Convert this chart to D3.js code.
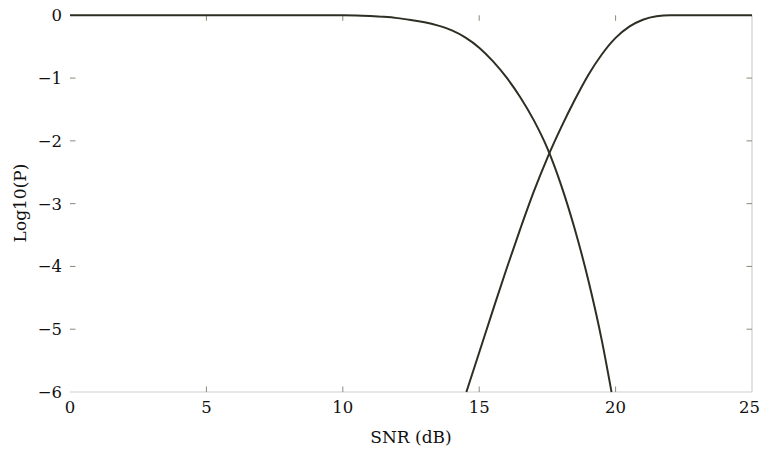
<!DOCTYPE html>
<html>
<head>
<meta charset="utf-8">
<script src="https://cdn.jsdelivr.net/npm/d3@7"></script>
<style>
  html, body { margin: 0; padding: 0; background: #fff; }
  svg { display: block; }
  text { font-family: "DejaVu Serif", "Liberation Serif", serif; fill: #111; }
</style>
</head>
<body>
<svg id="chart" width="761" height="452"></svg>
<script>
// ---- data ----
const xTicks = [0, 5, 10, 15, 20, 25];
const yTicks = [0, -1, -2, -3, -4, -5, -6];
const xTitle = "SNR (dB)";
const yTitle = "Log10(P)";

// Decreasing curve
const snrA = [0, 5, 10, 10.5, 11, 11.5, 12, 12.5, 13, 13.5, 14, 14.5, 15, 15.5, 16, 16.5, 17, 17.5, 18, 18.5, 19, 19.5, 19.85];
const logPA = [0, 0, 0, -0.003, -0.012, -0.025, -0.045, -0.075, -0.11, -0.165, -0.24, -0.355, -0.515, -0.73, -0.99, -1.3, -1.67, -2.12, -2.7, -3.4, -4.22, -5.19, -6];

// Increasing curve
const snrB = [14.53, 15, 15.5, 16, 16.5, 17, 17.5, 18, 18.5, 19, 19.5, 20, 20.5, 21, 21.5, 22, 25];
const logPB = [-6, -5.37, -4.7, -4.04, -3.41, -2.81, -2.27, -1.79, -1.35, -0.95, -0.62, -0.36, -0.18, -0.07, -0.015, 0, 0];

// ---- drawing ----
const svg = d3.select("#chart");
const W = 761;
const mLeft = 70, mRight = 752, mTop = 15.3, mBottom = 392;
const x = d3.scaleLinear().domain([0, 25]).range([mLeft, mRight]);
const y = d3.scaleLinear().domain([-6, 0]).range([mBottom, mTop]);

const frameColor = "#cfcfcf";
const tickColor = "#8a8a7a";
const curveColor = "#2e2e24";
const tickFont = 16.5;
const titleFont = 17;

// frame: bottom and right
svg.append("line").attr("x1", mLeft).attr("x2", mRight).attr("y1", mBottom).attr("y2", mBottom)
  .attr("stroke", frameColor).attr("stroke-width", 1.2);
svg.append("line").attr("x1", mRight).attr("x2", mRight).attr("y1", mTop).attr("y2", mBottom)
  .attr("stroke", frameColor).attr("stroke-width", 1.2);

// inward ticks
const tl = 5.5;
xTicks.slice(1, -1).forEach(v => {
  svg.append("line").attr("x1", x(v)).attr("x2", x(v)).attr("y1", mBottom).attr("y2", mBottom - tl)
    .attr("stroke", tickColor).attr("stroke-width", 1);
  svg.append("line").attr("x1", x(v)).attr("x2", x(v)).attr("y1", mTop).attr("y2", mTop + tl)
    .attr("stroke", tickColor).attr("stroke-width", 1);
});
yTicks.slice(1, -1).forEach(v => {
  svg.append("line").attr("x1", mLeft).attr("x2", mLeft + tl).attr("y1", y(v)).attr("y2", y(v))
    .attr("stroke", tickColor).attr("stroke-width", 1);
  svg.append("line").attr("x1", mRight).attr("x2", mRight - tl).attr("y1", y(v)).attr("y2", y(v))
    .attr("stroke", tickColor).attr("stroke-width", 1);
});

// tick labels
const fmt = v => (v < 0 ? "\u2212" + Math.abs(v) : String(v));
svg.selectAll("text.xt").data(xTicks).enter().append("text")
  .attr("class", "xt").attr("x", d => x(d)).attr("y", mBottom + 21)
  .attr("text-anchor", "middle").attr("font-size", tickFont).text(fmt)
  .each(function () {
    const b = this.getBBox();
    const over = b.x + b.width - (W - 1);
    if (over > 0) d3.select(this).attr("x", +d3.select(this).attr("x") - over);
  });
svg.selectAll("text.yt").data(yTicks).enter().append("text")
  .attr("class", "yt").attr("x", mLeft - 8).attr("y", d => y(d))
  .attr("dy", "0.36em").attr("text-anchor", "end").attr("font-size", tickFont).text(fmt);

// titles
svg.append("text").attr("x", (mLeft + mRight) / 2).attr("y", 443)
  .attr("text-anchor", "middle").attr("font-size", titleFont).text(xTitle);
svg.append("text").attr("transform", "translate(26,203) rotate(-90)")
  .attr("text-anchor", "middle").attr("font-size", titleFont).text(yTitle);

// curves
const line = d3.line().x(d => x(d[0])).y(d => y(d[1])).curve(d3.curveMonotoneX);
const dataA = snrA.map((s, i) => [s, logPA[i]]);
const dataB = snrB.map((s, i) => [s, logPB[i]]);
[dataA, dataB].forEach(d => {
  svg.append("path").datum(d).attr("d", line)
    .attr("fill", "none").attr("stroke", curveColor).attr("stroke-width", 2);
});
</script>
</body>
</html>
